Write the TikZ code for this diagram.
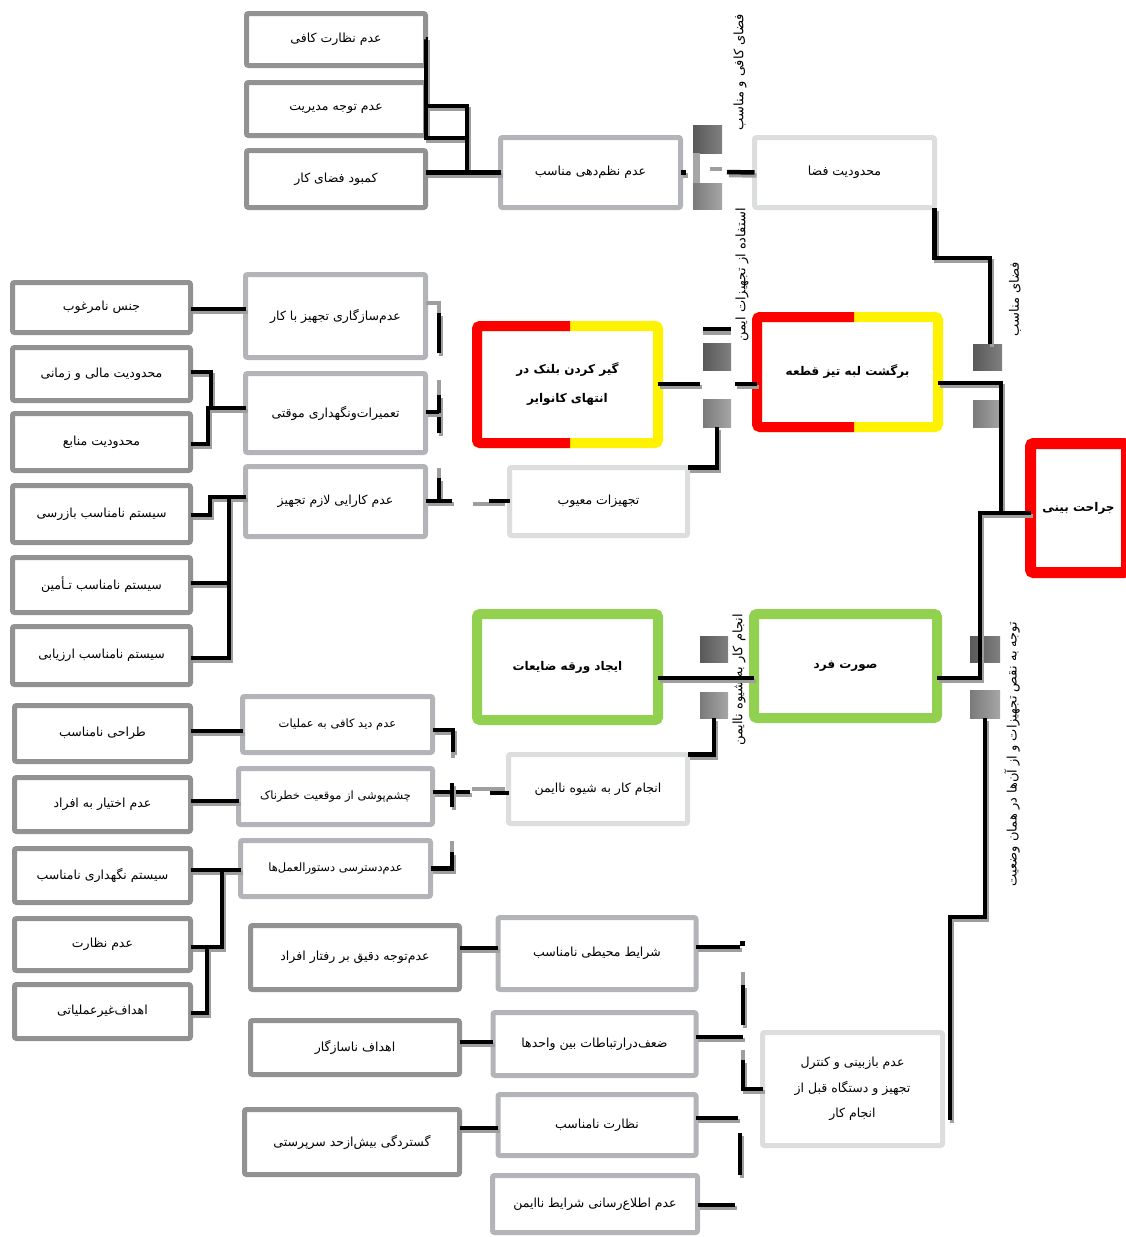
\documentclass[tikz,border=0pt]{standalone}
\usepackage{fontspec}
\newfontfamily\fa[Script=Arabic]{DejaVu Sans}
\TeXXeTstate=1
\usetikzlibrary{calc}
\definecolor{dkg}{HTML}{929292}
\definecolor{mdg}{HTML}{B2B4B7}
\definecolor{ltg}{HTML}{DCDDDF}
\definecolor{shg}{HTML}{9E9E9E}
\definecolor{grn}{HTML}{92D050}
\definecolor{gda}{HTML}{595959}
\definecolor{gdb}{HTML}{808080}
\definecolor{gla}{HTML}{7A7A7A}
\definecolor{glb}{HTML}{A6A6A6}
\newcommand\RT[1]{\beginR #1\endR}
\newcommand\cn[1]{\draw[shd] #1; \draw[blk] #1;}
\tikzset{
  sz/.style n args={2}{minimum width=#1pt, minimum height=#2pt},
  base/.style={rounded corners=2pt, fill=white, inner sep=0pt, outer sep=0pt, align=center, text=black, font=\fa\fontsize{12.5}{15}\selectfont},
  dkbox/.style={base, draw=dkg, line width=5pt},
  mdbox/.style={base, draw=mdg, line width=5pt},
  ltbox/.style={base, draw=ltg, line width=5pt},
  cbox/.style={base, line width=10pt, rounded corners=3pt, font=\fa\bfseries\fontsize{12}{29}\selectfont},
  half/.style={draw=red, line width=10pt, rounded corners=3pt},
  blk/.style={line width=4.5pt, black},
  gry/.style={line width=4.5pt, shg},
  shd/.style={line width=4.5pt, shg, transform canvas={shift={(2pt,-3pt)}}},
  gdk/.style={inner sep=0pt, outer sep=0pt, left color=gda, right color=gdb},
  glt/.style={inner sep=0pt, outer sep=0pt, left color=gla, right color=glb},
  lab/.style={font=\fa\fontsize{13}{15}\selectfont, rotate=90, inner sep=0pt},
}
\begin{document}
\begin{tikzpicture}[x=1pt, y=-1pt]
\useasboundingbox (0,0) rectangle (1126,1237);

% ---------- top group ----------
\node[dkbox, sz={179}{52}] (a1) at (336,39.5) {\RT{عدم نظارت کافی}};
\node[dkbox, sz={179}{53}] (a2) at (336,109) {\RT{عدم توجه مدیریت}};
\node[dkbox, sz={179}{57}] (a3) at (336,179) {\RT{کمبود فضای کار}};
\node[mdbox, sz={180}{70}] (b1) at (590.5,172.5) {\RT{عدم نظم^^^^200cدهی مناسب}};
\node[ltbox, sz={180}{70}] (c1) at (844.5,172.5) {\RT{محدودیت فضا}};

% ---------- middle left ----------
\node[mdbox, sz={180}{83}] (m1) at (335.5,316) {\RT{عدم^^^^200cسازگاری تجهیز با کار}};
\node[mdbox, sz={180}{79}] (m2) at (335.5,413) {\RT{تعمیرات^^^^200cونگهداری موقتی}};
\node[mdbox, sz={180}{70}] (m3) at (335.5,501.5) {\RT{عدم کارایی لازم تجهیز}};
\node[ltbox, sz={178}{68}] (d3) at (598.5,501.5) {\RT{تجهیزات معیوب}};

\node[dkbox, sz={178}{50}] (l1) at (101.5,307.5) {\RT{جنس نامرغوب}};
\node[dkbox, sz={178}{53}] (l2) at (101.5,374) {\RT{محدودیت مالی و زمانی}};
\node[dkbox, sz={178}{57}] (l3) at (101.5,442) {\RT{محدودیت منابع}};
\node[dkbox, sz={178}{57}] (l4) at (101.5,514) {\RT{سیستم نامناسب بازرسی}};
\node[dkbox, sz={178}{55}] (l5) at (101.5,585) {\RT{سیستم نامناسب تـأمین}};
\node[dkbox, sz={178}{58}] (l6) at (101.5,655.5) {\RT{سیستم نامناسب ارزیابی}};

% ---------- lower left ----------
\node[dkbox, sz={176}{56}] (l7) at (102.5,733.5) {\RT{طراحی نامناسب}};
\node[dkbox, sz={176}{54}] (l8) at (102.5,804.5) {\RT{عدم اختیار به افراد}};
\node[dkbox, sz={176}{54}] (l9) at (102.5,875.5) {\RT{سیستم نگهداری نامناسب}};
\node[dkbox, sz={176}{52}] (l10) at (102.5,944.5) {\RT{عدم نظارت}};
\node[dkbox, sz={176}{54}] (l11) at (102.5,1011.5) {\RT{اهداف^^^^200cغیرعملیاتی}};

\node[mdbox, sz={190}{56}, font=\fa\fontsize{11.5}{14}\selectfont] (m4) at (337.5,724.5) {\RT{عدم دید کافی به عملیات}};
\node[mdbox, sz={194}{56}, font=\fa\fontsize{11.5}{14}\selectfont] (m5) at (335.5,796.5) {\RT{چشم^^^^200cپوشی از موقعیت خطرناک}};
\node[mdbox, sz={190}{56}, font=\fa\fontsize{11.5}{14}\selectfont] (m6) at (335.5,868.5) {\RT{عدم^^^^200cدسترسی دستورالعمل^^^^200cها}};
\node[ltbox, sz={179}{69}] (e2) at (598,789) {\RT{انجام کار به شیوه ناایمن}};

\node[dkbox, sz={209}{64}] (k1) at (355,957.5) {\RT{عدم^^^^200cتوجه دقیق بر رفتار افراد}};
\node[dkbox, sz={209}{54}] (k2) at (355,1047.5) {\RT{اهداف ناسازگار}};
\node[dkbox, sz={215}{65}] (k3) at (352,1142) {\RT{گستردگی بیش^^^^200cازحد سرپرستی}};
\node[mdbox, sz={198}{72}] (n1) at (597,953.5) {\RT{شرایط محیطی نامناسب}};
\node[mdbox, sz={203}{63}] (n2) at (594.5,1044) {\RT{ضعف^^^^200cدرارتباطات بین واحدها}};
\node[mdbox, sz={198}{61}] (n3) at (597,1125) {\RT{نظارت نامناسب}};
\node[mdbox, sz={205}{57}] (n4) at (595,1204) {\RT{عدم اطلاع^^^^200cرسانی شرایط ناایمن}};
\node[ltbox, sz={180}{113}, font=\fa\fontsize{12.5}{25.5}\selectfont] (f1) at (852.5,1089) {\RT{عدم بازبینی و کنترل}\\\RT{تجهیز و دستگاه قبل از}\\\RT{انجام کار}};

% ---------- coloured boxes ----------
\node[cbox, draw=yellow, sz={181}{117}] (d2) at (567.5,384.5) {\RT{گیر کردن بلنک در}\\\RT{انتهای کانوایر}};
\draw[half] (d2.north west -| 570,0) -- (d2.north west) -- (d2.south west) -- (d2.south west -| 570,0);
\node[cbox, draw=yellow, sz={181}{110}] (d1) at (847.5,372) {\RT{برگشت لبه تیز قطعه}};
\draw[half] (d1.north west -| 854,0) -- (d1.north west) -- (d1.south west) -- (d1.south west -| 854,0);
\node[cbox, draw=grn, sz={181}{106}] (e3) at (567.5,667) {\RT{ایجاد ورقه ضایعات}};
\node[cbox, draw=grn, sz={183}{104}] (e1) at (845.5,666) {\RT{صورت فرد}};
\node[cbox, draw=red, line width=11pt, sz={96}{129}] (j) at (1078.5,508) {\RT{جراحت بینی}};

% ---------- gates ----------
\node[gdk, sz={29}{28}] (g1a) at (707.5,139) {};
\node[glt, sz={29}{26}] (g1b) at (707.5,196) {};
\fill[glb] (693,153) rectangle (700,183);
\node[gdk, sz={28}{27}] (g2a) at (717,356.5) {};
\node[glt, sz={28}{28}] (g2b) at (717,413) {};
\node[gdk, sz={29}{26}] (g3a) at (987.5,357) {};
\node[glt, sz={29}{27}] (g3b) at (987.5,413.5) {};
\node[gdk, sz={28}{26}] (g4a) at (714,649) {};
\node[glt, sz={28}{26}] (g4b) at (714,705) {};
\node[gdk, sz={30}{26}] (g5a) at (985,649) {};
\node[glt, sz={30}{28}] (g5b) at (985,704) {};

% ---------- rotated labels ----------
\node[lab] (t1) at (740,72) {\RT{فضای کافی و مناسب}};
\node[lab] (t2) at (742,275) {\RT{استفاده از تجهیزات ایمن}};
\node[lab] (t3) at (1015,299) {\RT{فضای مناسب}};
\node[lab] (t4) at (739,680) {\RT{انجام کار به شیوه ناایمن}};
\node[lab] (t5) at (1012,754) {\RT{توجه به نقص تجهیزات و از آن^^^^200cها در همان وضعیت}};

% ---------- connectors: top ----------
\cn{(a1.east) -| (426,138) -- (467,138)}
\cn{(a2.east |- 0,106) -| (467,172)}
\cn{(a3.east |- b1.west) -- (b1.west)}
\cn{(b1.east) -- ++(5,0)}
\draw[gry] (710,169) -- (g1a.east |- 0,169);
\cn{(727,172) -- (c1.west)}
\cn{(c1.south east) |- (990,258) -- (g3a.north -| 990,0)}

% right trunk
\cn{(d1.east |- 0,383) -| (1001,513) -- (j.west |- 0,513)}
\cn{(j.west |- 0,513) -- (980,513) |- (e1.east |- 0,678)}

% D2 - gate - D1
\draw[gry] (g2a.north west |- 0,333) -- (g2a.north east |- 0,333);
\draw[blk] (g2a.north west |- 0,329) -- (g2a.north east |- 0,329);
\cn{(d2.east |- 0,384) -- (700,384)}
\cn{(735,384) -- (d1.west |- 0,384)}
\cn{(g2b.south) |- (d3.north east)}

% middle column connectors
\draw[gry] (m1.east |- 0,303) -- (439,303) -- (439,313);
\cn{(439,313) -- (439,353)}
\draw[gry] (439,380) -- (439,395);
\cn{(439,395) -- (439,433)}
\cn{(m2.east |- 0,412) -- (439,412)}
\draw[gry] (439,468) -- (439,478);
\cn{(439,478) -- (439,501)}
\cn{(m3.east |- 0,501) -- (452,501)}
\draw[gry] (473,504) -- (505,504);
\draw[blk] (489,501) -- (d3.west |- 0,501);

% left column connectors
\cn{(l1.east |- 0,309) -- (m1.west |- 0,309)}
\cn{(l2.east |- 0,372) -| (211,408)}
\cn{(l3.east |- 0,444) -| (208,408) -- (m2.west |- 0,408)}
\cn{(l4.east |- 0,515) -| (210,497) -- (m3.west |- 0,497)}
\cn{(l5.east |- 0,583) -- (229,583)}
\cn{(l6.east |- 0,658) -| (229,497)}

% lower left connectors
\cn{(l7.east |- 0,731) -- (m4.west |- 0,731)}
\cn{(l8.east |- 0,801) -- (m5.west |- 0,801)}
\cn{(l9.east |- 0,870) -- (m6.west |- 0,870)}
\cn{(l10.east |- 0,947) -| (222,870)}
\cn{(l11.east |- 0,1013) -| (207,947)}

\cn{(m4.east |- 0,730) -| (453,752)}
\draw[gry] (453,752) -- (453,758);
\cn{(m5.east |- 0,792) -- (470,792)}
\cn{(452,783) -- (452,807)}
\draw[gry] (472,789) -- (505,789);
\draw[blk] (490,793) -- (e2.west |- 0,793);
\draw[gry] (452,841) -- (452,852);
\cn{(452,852) |- (m6.east)}

% E group
\cn{(g4b.south) |- (e2.north east)}
\cn{(e3.east |- 0,678) -- (e1.west |- 0,678)}
\cn{(g5b.south) |- (950,917) -- (950,1120)}

% bottom group
\cn{(k1.east |- 0,948) -- (n1.west |- 0,948)}
\cn{(k2.east |- 0,1042) -- (n2.west |- 0,1042)}
\cn{(k3.east |- 0,1128) -- (n3.west |- 0,1128)}
\cn{(n1.east |- 0,947) -- (740,947)}
\fill (740,941) rectangle (745,946);
\draw[gry] (743,972) -- (743,985);
\cn{(743,985) -- (743,1025)}
\cn{(n2.east |- 0,1037) -- (743,1037)}
\draw[gry] (743,1050) -- (743,1060);
\cn{(743,1060) |- (f1.west)}
\cn{(n3.east |- 0,1118) -- (738,1118)}
\cn{(740,1133) -- (740,1175)}
\cn{(n4.east |- 0,1205) -- (735,1205)}
\end{tikzpicture}
\end{document}
